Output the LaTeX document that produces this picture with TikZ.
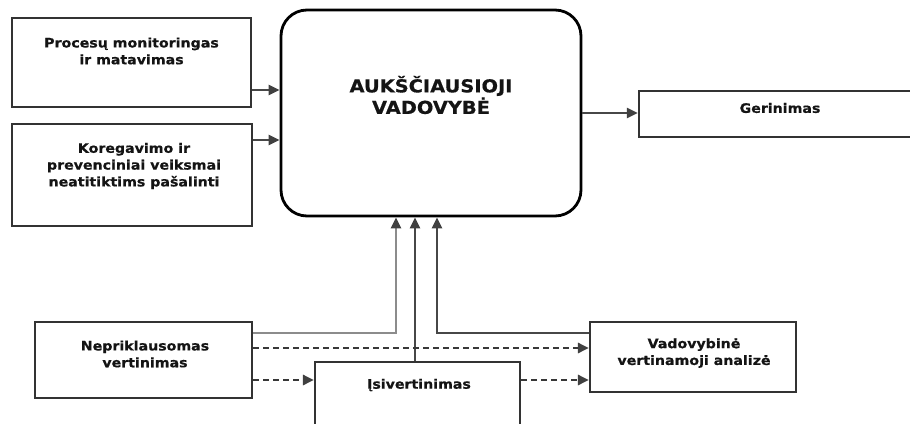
\documentclass[tikz,border=0pt]{standalone}
\usepackage{fontspec}
\newfontfamily\diafont[FakeStretch=1.09, FakeBold=0.6]{DejaVu Sans}
\usetikzlibrary{arrows.meta,positioning}
\begin{document}
\begin{tikzpicture}[x=1pt, y=-1pt,
box/.style={rectangle, draw=black!80, line width=2.2pt, fill=white},
topbox/.style={rectangle, rounded corners=26pt, draw=black, line width=2.8pt},
txt/.style={align=center, text=black!92, font=\diafont\bfseries\fontsize{13}{16.8}\selectfont},
bigtxt/.style={align=center, text=black!92, font=\diafont\bfseries\fontsize{17.8}{21.5}\selectfont},
link/.style={draw=black!72, line width=2.2pt, -{Triangle[length=11pt,width=10pt,color=black!75]}},
dlink/.style={link, draw=black!78, dash pattern=on 6pt off 4pt, line width=2.8pt},
]
\useasboundingbox (0,0) rectangle (910,423);

\node (mon) [box, minimum width=239, minimum height=89,
	label={[txt, yshift=11.5pt]center:{Procesų monitoringas\\ir matavimas}}] at (131.5,62.5) {};
\node (kor) [box, minimum width=240, minimum height=102,
	label={[txt, xshift=2pt, yshift=9pt]center:{Koregavimo ir\\prevenciniai veiksmai\\neatitiktims pašalinti}}] at (132,175) {};
\node (top) [topbox, minimum width=300, minimum height=206,
	label={[bigtxt, yshift=18pt]center:{AUKŠČIAUSIOJI\\VADOVYBĖ}}] at (431,113) {};
\node (ger) [box, minimum width=273, minimum height=46,
	label={[txt, xshift=4.5pt, yshift=6pt]center:{Gerinimas}}] at (775.5,114) {};
\node (nep) [box, minimum width=217, minimum height=76,
	label={[txt, xshift=1.5pt, yshift=6pt]center:{Nepriklausomas\\vertinimas}}] at (143.5,360) {};
\node (isv) [box, minimum width=205, minimum height=68,
	label={[txt, xshift=1.5pt, yshift=11pt]center:{Įsivertinimas}}] at (417.5,396) {};
\node (vad) [box, minimum width=206, minimum height=70,
	label={[txt, xshift=1pt, yshift=4pt]center:{Vadovybinė\\vertinamoji analizė}}] at (693,357) {};

\coordinate (r1) at (0,90);
\coordinate (r2) at (0,140);
\coordinate (c1) at (396,333);
\coordinate (c2) at (415,0);
\coordinate (c3) at (437,333);
\coordinate (d1) at (0,348);
\coordinate (d2) at (0,380);

\draw[link] (mon.east |- r1) -- (top.west |- r1);
\draw[link] (kor.east |- r2) -- (top.west |- r2);
\draw[link] (top.east) -- (top.east -| ger.west);
\draw[link, draw=black!45] (nep.east |- c1) -| (top.south -| c1);
\draw[link] (isv.north -| c2) -- (top.south -| c2);
\draw[link] (vad.west |- c3) -| (top.south -| c3);
\draw[dlink] (nep.east |- d1) -- (vad.west |- d1);
\draw[dlink] (nep.east |- d2) -- (isv.west |- d2);
\draw[dlink] (isv.east |- d2) -- (vad.west |- d2);
\end{tikzpicture}
\end{document}
